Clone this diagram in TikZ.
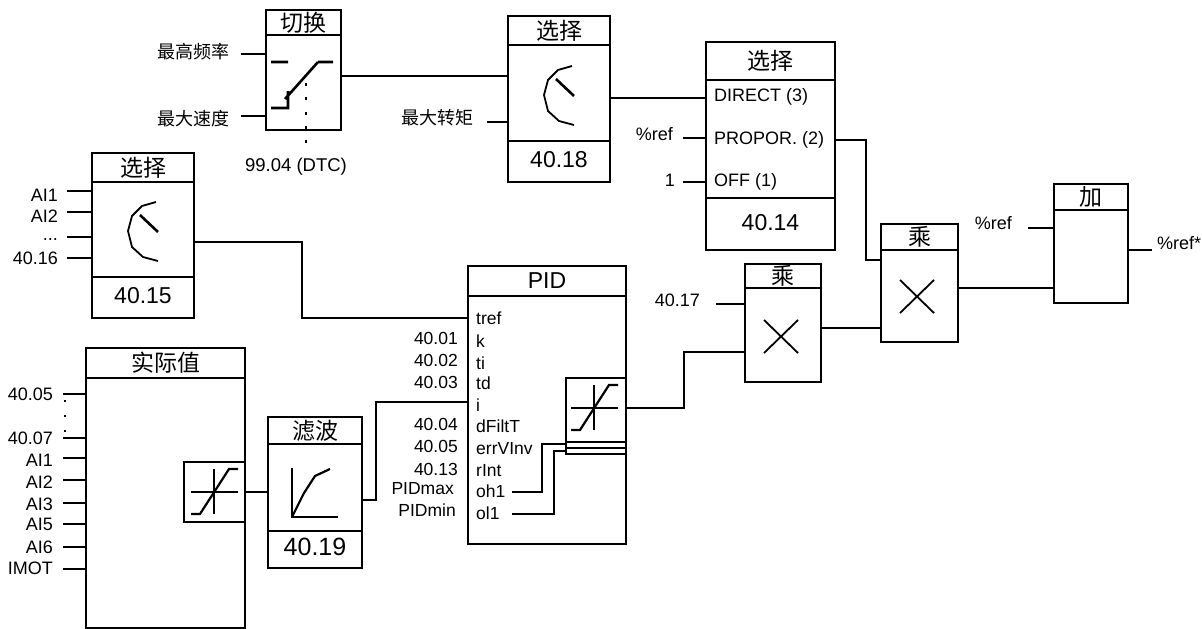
\documentclass[tikz,border=0pt]{standalone}
\usepackage{fontspec}
\setmainfont{Liberation Sans}
\newfontfamily\cjk{Noto Sans CJK SC}
\usetikzlibrary{calc}
\tikzset{wire/.style={line width=2.6pt},thin wire/.style={line width=1.8pt},
blk/.style={draw,wire,rectangle,inner sep=0pt,outer sep=0pt},
lbl/.style={inner sep=0pt,font=\fontsize{18}{18}\selectfont,text height=13pt,text depth=0pt},
small/.style={lbl,font=\fontsize{17.5}{18}\selectfont},
zh/.style={inner sep=0pt,font=\cjk\fontsize{18}{18}\selectfont},
ttl/.style={inner sep=0pt,font=\cjk\fontsize{23}{23}\selectfont},
num/.style={inner sep=0pt,yshift=2pt,font=\fontsize{23}{23}\selectfont,text height=16.6pt,text depth=0pt},
dial/.pic={\draw[thin wire](0,0)--(-14,4)--(-24,14)--(-28,29)--(-24,45)--(-13,55)--(2,59);\draw[wire](-16,13)--(2,30);},
limit/.pic={\draw[wire](-23,0)--(24,0)(0,-23)--(0,22);\draw[thin wire,line width=2.2pt](-23,22)--(-14,22)--(15,-23)--(24,-23);},
cross/.pic={\draw[thin wire](0,0)--(34,33)(0,33)--(34,0);}}
\begin{document}
\begin{tikzpicture}[x=1pt,y=-1pt]
\useasboundingbox(0,0)rectangle(1202,629);
\foreach\n/\xa/\ya/\xb/\yb/\yr/\t in{SW/266/10/341/130/35/切换,SelA/92/153/194/318/182/选择,SelB/508/16/610/182/45/选择,SelC/706/42/835/250/80/选择,ACT/86/348/245/628/378/实际值,FIL/268/417/362/568/444/滤波,PID/468/266/626/544/296/{\fontspec{Liberation Sans}PID},MulA/745/264/821/382/288/乘,MulB/881/224/958/342/250/乘,ADD/1054/184/1128/303/210/加}{
\node[blk,minimum width=\xb-\xa,minimum height=\yb-\ya](\n)at({(\xa+\xb)/2},{(\ya+\yb)/2}){};
\draw[wire](\n.west|-0,\yr)--(\n.east|-0,\yr);
\node[ttl](\n T)at($(\n.north)!.5!(\n.north|-0,\yr)$){\t};}
\foreach\n/\yr/\t in{SelA/277/40.15,SelB/141/40.18,SelC/198/40.14,FIL/531/{\fontsize{25}{25}\selectfont 40.19}}{
\draw[wire](\n.west|-0,\yr)--(\n.east|-0,\yr);
\node[num](\n N)at($(\n.south)!.5!(\n.south|-0,\yr)$){\t};}
% inputs with a label and a short stub
\foreach\n/\t/\y/\ly in{a1/AI1/191/194.5,a2/AI2/212/216,a3/{.{}.{}.}/237/234,a4/40.16/258/258}{
\node[lbl,anchor=east](\n)at(58,\ly){\t};\coordinate(\n s)at(67,\y);\draw[wire](\n s)--(\n s-|SelA.west);}
\foreach\n/\t/\y/\ly in{b1/40.05/394/394,b2/40.07/438/438,b3/AI1/458/460,b4/AI2/480/482,b5/AI3/503/504,b6/AI5/524/524,b7/AI6/547/547,b8/IMOT/569/568}{
\node[lbl,anchor=east](\n)at(53,\ly){\t};\coordinate(\n s)at(63,\y);\draw[wire](\n s)--(\n s-|ACT.west);}
\node[zh,anchor=east](c1)at(230,52){最高频率};\coordinate(c1s)at(241,54);\draw[wire](c1s)--(c1s-|SW.west);
\node[zh,anchor=east](c2)at(230,119){最大速度};\coordinate(c2s)at(241,116);\draw[wire](c2s)--(c2s-|SW.west);
\node[zh,anchor=east](c3)at(474,118){最大转矩};\coordinate(c3s)at(487,122);\draw[wire](c3s)--(c3s-|SelB.west);
\node[lbl,anchor=east](d1)at(673,134){\%ref};\coordinate(d1s)at(683,138);\draw[wire](d1s)--(d1s-|SelC.west);
\node[lbl,anchor=east](d2)at(675,180){1};\coordinate(d2s)at(683,182);\draw[wire](d2s)--(d2s-|SelC.west);
\node[lbl,anchor=east](d3)at(700,300){40.17};\coordinate(d3s)at(716,304);\draw[wire](d3s)--(d3s-|MulA.west);
\node[lbl,anchor=east](d4)at(1012,223){\%ref};\coordinate(d4s)at(1028,228);\draw[wire](d4s)--(d4s-|ADD.west);
\node[lbl,anchor=west](d5)at(1157,243){\%ref*};\coordinate(d5s)at(1152,250);\draw[wire](ADD.east|-d5s)--(d5s);
% text in and beside the blocks
\foreach\n/\t/\y in{e1/DIRECT (3)/95,e2/PROPOR. (2)/138,e3/OFF (1)/180}\node[lbl,anchor=west](\n)at(714,\y){\t};
\foreach\n/\t/\y in{f1/tref/318,f2/k/341,f3/ti/363,f4/td/383,f5/i/405,f6/dFiltT/426,f7/errVInv/448,f8/rInt/470,f9/oh1/491,f10/ol1/513}\node[small,anchor=west](\n)at(476,\y){\t};
\foreach\n/\t/\y in{g1/40.01/338,g2/40.02/360,g3/40.03/382,g4/40.04/424,g5/40.05/446,g6/40.13/469}\node[small,anchor=east](\n)at(458,\y){\t};
\node[small,anchor=east](g7)at(454,488){PIDmax};\node[small,anchor=east](g8)at(456,510){PIDmin};
\node[lbl,anchor=center,font=\fontsize{18.5}{18}\selectfont](h1)at(296,165){99.04 (DTC)};
% switch
\draw[wire](271,62)--(288,62)(318,62)--(333,62)(318,62)--(285,99)(271,108)--(288,108)--(288,91);
\coordinate(k1)at(306,83);\coordinate(k2)at(306,144);\draw[line width=2pt,dash pattern=on 3pt off 11.3pt](k1)--(k2);
\coordinate(k3)at(65,400);\coordinate(k4)at(65,432);\draw[line width=2pt,dash pattern=on 2pt off 13pt](k3)--(k4);
\pic at(156,202){dial};\pic at(572,66){dial};
% limiters
\node[blk,minimum width=61,minimum height=60](LimA)at(214.5,492){};\pic at(214,492){limit};
\node[blk,minimum width=60,minimum height=76](LimB)at(596,416){};\pic at(594,408){limit};
\draw[wire](LimB.west|-0,442)--(LimB.east|-0,442)(LimB.west|-0,448)--(LimB.east|-0,448);
\draw[wire](292,468)--(292,517)--(338,517);\draw[wire,line width=2.2pt](292,517)--(304,493)--(315,476)--(330,469);
\pic at(764,320){cross};\pic at(900,280){cross};
% wires between blocks
\draw[wire](SW.east|-0,76)--(SelB.west|-0,76);
\draw[wire](SelB.east|-0,98)--(SelC.west|-0,98);
\draw[wire](SelC.east|-0,140)--(866,140)--(866,260)--(MulB.west|-0,260);
\draw[wire](SelA.east|-0,242)--(302,242)--(302,318)--(PID.west|-0,318);
\draw[wire](ACT.east|-0,492)--(FIL.west|-0,492);
\draw[wire](FIL.east|-0,500)--(376,500)--(376,402)--(PID.west|-0,402);
\draw[wire](PID.east|-0,408)--(684,408)--(684,352)--(MulA.west|-0,352);
\draw[wire](MulA.east|-0,328)--(MulB.west|-0,328);
\draw[wire](MulB.east|-0,288)--(ADD.west|-0,288);
\coordinate(f9s)at(512,492);\coordinate(f10s)at(512,514);
\draw[wire](f9s)--(542,492)--(542,444)--(LimB.west|-0,444);
\draw[wire](f10s)--(554,514)--(554,451)--(LimB.west|-0,451);
\end{tikzpicture}
\end{document}
